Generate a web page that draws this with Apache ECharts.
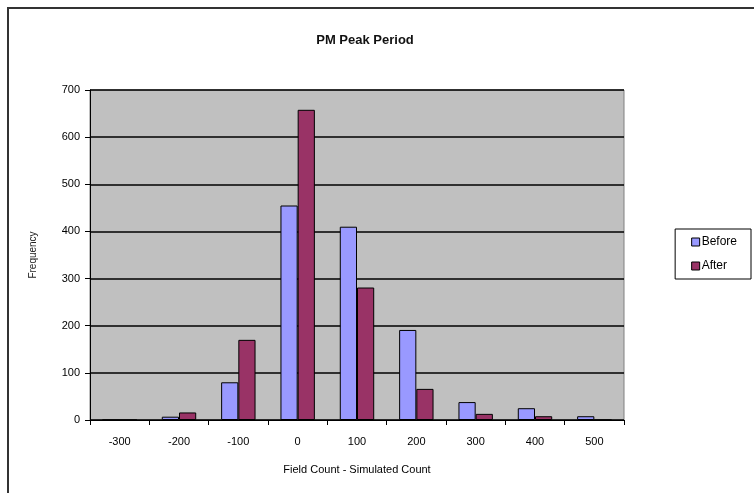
<!DOCTYPE html>
<html>
<head>
<meta charset="utf-8">
<script src="https://cdn.jsdelivr.net/npm/echarts@6/dist/echarts.min.js"></script>
<style>
html,body{margin:0;padding:0;background:#fff;}
#chart{width:754px;height:493px;}
</style>
</head>
<body>
<div id="chart"></div>
<script>
const categories = ['-300', '-200', '-100', '0', '100', '200', '300', '400', '500'];
const beforeValues = [0, 7, 80, 455, 410, 191, 38, 25, 8];
const afterValues = [0, 16, 170, 658, 281, 66, 13, 8, 0];
const yTicks = [0, 100, 200, 300, 400, 500, 600, 700];

const font = 'Liberation Sans, Arial, sans-serif';
const chart = echarts.init(document.getElementById('chart'));
chart.setOption({
  animation: false,
  backgroundColor: '#ffffff',
  title: {
    text: 'PM Peak Period',
    left: 360, top: 29, textAlign: 'center',
    textStyle: {fontFamily: font, fontSize: 13, fontWeight: 'bold', color: '#111'}
  },
  graphic: [{
    type: 'rect', shape: {x: 8, y: 8, width: 760, height: 500},
    style: {fill: 'none', stroke: '#333', lineWidth: 2}, z: 100
  }],
  legend: {
    right: 3, top: 229, orient: 'vertical',
    width: 81, padding: [7, 14, 7, 16],
    borderColor: '#000', borderWidth: 1,
    itemWidth: 8, itemHeight: 8, itemGap: 12,
    icon: 'rect',
    textStyle: {fontFamily: font, fontSize: 12, color: '#000', padding: [0, 0, 0, -3]},
    data: [{name: 'Before', itemStyle: {borderColor: '#000', borderWidth: 1}},
           {name: 'After', itemStyle: {borderColor: '#000', borderWidth: 1}}]
  },
  grid: {
    left: 90, top: 90, width: 534, height: 330,
    show: true, backgroundColor: '#c0c0c0', borderColor: '#808080', borderWidth: 1
  },
  xAxis: {
    type: 'category', data: categories,
    name: 'Field Count - Simulated Count', nameLocation: 'middle', nameGap: 44,
    nameTextStyle: {fontFamily: font, fontSize: 11, color: '#000'},
    axisLine: {lineStyle: {color: '#000', width: 1}},
    axisTick: {show: true, length: 5, lineStyle: {color: '#000'}},
    axisLabel: {fontFamily: font, fontSize: 11, color: '#000', margin: 16}
  },
  yAxis: {
    type: 'value', min: 0, max: 700, interval: 100,
    name: 'Frequency', nameLocation: 'middle', nameGap: 52, nameRotate: 90,
    nameTextStyle: {fontFamily: font, fontSize: 10, color: '#222'},
    axisLine: {show: true, lineStyle: {color: '#000', width: 1}},
    axisTick: {show: true, length: 5, lineStyle: {color: '#000'}},
    axisLabel: {fontFamily: font, fontSize: 11, color: '#000', margin: 10,
      formatter: v => yTicks.includes(v) ? String(v) : ''},
    splitLine: {show: true, lineStyle: {color: '#000', width: 1.5}}
  },
  series: [
    {name: 'Before', type: 'bar', data: beforeValues, barGap: '0%', barCategoryGap: '42%',
     itemStyle: {color: '#9999ff', borderColor: '#000', borderWidth: 1}},
    {name: 'After', type: 'bar', data: afterValues, barGap: '0%', barCategoryGap: '42%',
     itemStyle: {color: '#993366', borderColor: '#000', borderWidth: 1}}
  ]
});
</script>
</body>
</html>
